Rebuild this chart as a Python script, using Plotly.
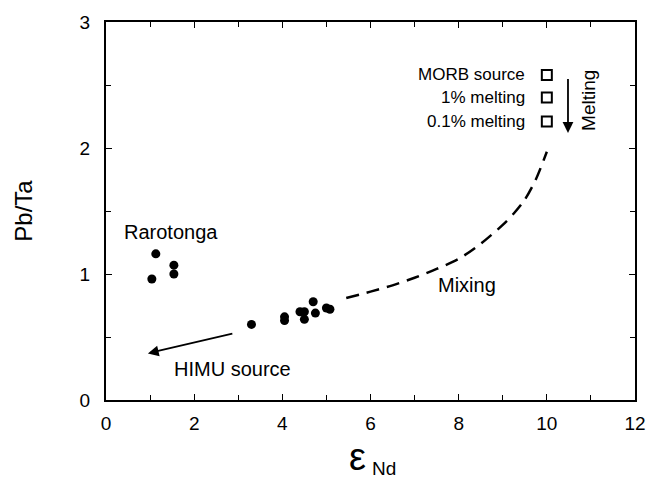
import plotly.graph_objects as go

# Rarotonga samples
rar_x = [1.13, 1.54, 1.54, 1.04]
rar_y = [1.16, 1.07, 1.00, 0.96]

# other samples
samp_x = [3.30, 4.05, 4.05, 4.40, 4.50, 4.50, 4.70, 4.75, 5.00, 5.08]
samp_y = [0.60, 0.66, 0.63, 0.70, 0.70, 0.64, 0.78, 0.69, 0.73, 0.72]

# mixing curve
mix_x = [5.45, 6.0, 6.5, 7.0, 7.5, 8.0, 8.5, 9.0, 9.25, 9.5, 9.75, 10.0]
mix_y = [0.81, 0.86, 0.91, 0.97, 1.04, 1.12, 1.24, 1.39, 1.48, 1.59, 1.75, 1.97]

# MORB source / melting squares
sq_labels = ["MORB source", "1% melting", "0.1% melting"]
sq_x = [10.0, 10.0, 10.0]
sq_y = [2.58, 2.40, 2.21]

x_ticks = [0, 2, 4, 6, 8, 10, 12]
y_ticks = [0, 1, 2, 3]

FONT = "Liberation Sans, Arial, sans-serif"

# plot-area geometry in pixels (for paper-coord title placement)
L, R, T, B = 106, 22, 22, 78
W, H = 657, 478
PW, PH = W - L - R, H - T - B


def px(xp):
    return (xp - L) / PW


def py(yp):
    return (H - B - yp) / PH


fig = go.Figure()

fig.add_trace(go.Scatter(
    x=mix_x, y=mix_y, mode="lines",
    line=dict(color="black", width=2.5, dash="13px,8px", shape="spline", smoothing=0.8),
    showlegend=False, hoverinfo="skip"))

fig.add_trace(go.Scatter(
    x=rar_x, y=rar_y, mode="markers",
    marker=dict(color="black", size=9), showlegend=False))

fig.add_trace(go.Scatter(
    x=samp_x, y=samp_y, mode="markers",
    marker=dict(color="black", size=9), showlegend=False))

fig.add_trace(go.Scatter(
    x=sq_x, y=sq_y, mode="markers",
    marker=dict(symbol="square-open", color="black", size=10,
                line=dict(width=2, color="black")),
    showlegend=False))

annotations = []
for lab, yv in zip(sq_labels, sq_y):
    annotations.append(dict(x=9.55, y=yv, text=lab, showarrow=False,
                            xanchor="right", yanchor="middle",
                            font=dict(size=17, color="black", family=FONT)))

annotations += [
    dict(x=1.47, y=1.33, text="Rarotonga", showarrow=False,
         font=dict(size=20, color="black", family=FONT)),
    dict(x=2.88, y=0.25, text="HIMU source", showarrow=False,
         font=dict(size=20, color="black", family=FONT)),
    dict(x=8.2, y=0.91, text="Mixing", showarrow=False,
         font=dict(size=20, color="black", family=FONT)),
    dict(x=10.93, y=2.38, text="Melting", showarrow=False, textangle=-90,
         font=dict(size=19, color="black", family=FONT)),
    # HIMU arrow
    dict(x=0.95, y=0.37, ax=2.9, ay=0.53, xref="x", yref="y",
         axref="x", ayref="y", text="", showarrow=True,
         arrowhead=2, arrowsize=1.2, arrowwidth=1.8, arrowcolor="black"),
    # melting arrow
    dict(x=10.48, y=2.12, ax=10.48, ay=2.56, xref="x", yref="y",
         axref="x", ayref="y", text="", showarrow=True,
         arrowhead=2, arrowsize=1.2, arrowwidth=1.8, arrowcolor="black"),
    # x-axis title: epsilon with Nd subscript
    dict(x=px(357), y=py(457), xref="paper", yref="paper", text="ε",
         showarrow=False, xanchor="center", yanchor="middle",
         font=dict(size=38, color="black", family=FONT)),
    dict(x=px(370), y=py(468), xref="paper", yref="paper", text="Nd",
         showarrow=False, xanchor="left", yanchor="middle",
         font=dict(size=19, color="black", family=FONT)),
]

fig.update_layout(
    width=W, height=H,
    margin=dict(l=L, r=R, t=T, b=B),
    paper_bgcolor="white", plot_bgcolor="white",
    font=dict(family=FONT, color="black"),
    annotations=annotations,
)

fig.update_xaxes(
    range=[0, 12], tickvals=x_ticks, ticktext=[str(v) for v in x_ticks],
    showgrid=False, zeroline=False,
    showline=True, linecolor="black", linewidth=2, mirror="allticks",
    ticks="inside", ticklen=6, tickwidth=1, tickcolor="black",
    minor=dict(dtick=1, ticks="inside", ticklen=5, tickwidth=1, tickcolor="black"),
    tickfont=dict(size=19, family=FONT), ticklabelstandoff=5,
)

fig.update_yaxes(
    range=[0, 3], tickvals=y_ticks, ticktext=[str(v) for v in y_ticks],
    showgrid=False, zeroline=False,
    showline=True, linecolor="black", linewidth=2, mirror="allticks",
    ticks="inside", ticklen=6, tickwidth=1, tickcolor="black",
    minor=dict(dtick=0.5, ticks="inside", ticklen=5, tickwidth=1, tickcolor="black"),
    tickfont=dict(size=19, family=FONT), ticklabelstandoff=10,
    title=dict(text="Pb/Ta", font=dict(size=24, family=FONT), standoff=40),
)

fig.write_html("out.html", config={"displayModeBar": False},
               post_script="document.body.style.margin='0';document.body.style.padding='0';")
